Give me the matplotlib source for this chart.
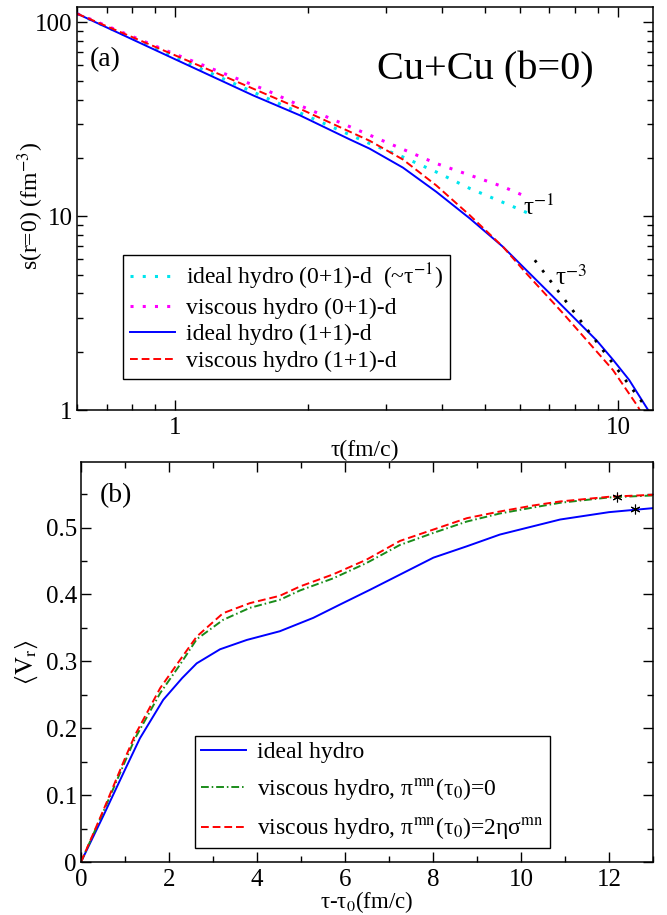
import matplotlib.pyplot as plt
from matplotlib.ticker import MultipleLocator, FuncFormatter, NullFormatter, LogLocator

plt.rcParams['font.family'] = ['Liberation Serif', 'DejaVu Serif']
plt.rcParams['mathtext.fontset'] = 'stix'

# ---- (a) s(r=0) vs tau, log-log ----
tau_ideal01 = [0.6, 1.0, 1.91, 2.75, 3.27, 3.89, 4.63, 5.8, 6.43]
s_ideal01 = [111, 66, 34.2, 23.7, 20.2, 16.9, 13.9, 11.2, 10.1]

tau_visc01 = [0.6, 1.0, 1.61, 1.91, 2.75, 3.89, 5.5, 6.21]
s_visc01 = [111, 68.5, 44.6, 37.3, 26.2, 18.7, 14.2, 12.6]

tau_ideal11 = [0.6, 1.0, 1.5, 1.91, 2.47, 2.75, 3.27, 3.89, 4.63, 5.5, 6.21, 7.02,
               8.96, 9.76, 10.6, 11.7, 11.85]
s_ideal11 = [111, 64.5, 42.0, 33.2, 25.0, 22.3, 17.8, 13.35, 9.73, 6.95, 5.27, 3.99,
             2.28, 1.81, 1.43, 1.0, 0.96]

tau_visc11 = [0.6, 1.0, 1.5, 1.91, 2.47, 2.75, 3.27, 3.89, 4.63, 5.5, 6.21, 7.51, 9.74,
              11.1, 11.3]
s_visc11 = [111, 67.6, 45.5, 35.9, 27.4, 24.5, 19.6, 14.4, 10.1, 6.95, 5.07, 3.16, 1.61,
            1.04, 0.96]

tau_pow3 = [6.49, 11.7]
s_pow3 = [5.93, 1.0]

# ---- (b) <v_r> vs tau - tau0 ----
t_b = [0, 0.5, 1.0, 1.34, 1.87, 2.3, 2.63, 3.16, 3.77, 4.52, 5.28, 5.89, 6.57, 8.01,
       8.77, 9.52, 10.89, 12, 13]
vr_ideal = [0, 0.068, 0.138, 0.185, 0.2425, 0.275, 0.297, 0.318, 0.332, 0.345, 0.365,
            0.385, 0.407, 0.455, 0.472, 0.4895, 0.512, 0.523, 0.529]

t_v = [0, 0.5, 1.0, 1.23, 1.8, 2.25, 2.63, 3.23, 3.84, 4.52, 4.98, 5.73, 6.49, 7.25,
       8.01, 8.77, 9.52, 10.28, 10.89, 12, 13]
vr_visc0 = [0, 0.074, 0.15, 0.185, 0.2525, 0.295, 0.333, 0.362, 0.38, 0.392, 0.406,
            0.424, 0.447, 0.474, 0.492, 0.509, 0.521, 0.530, 0.537, 0.545, 0.548]
vr_visc2 = [0, 0.076, 0.155, 0.19, 0.26, 0.302, 0.337, 0.372, 0.387, 0.398, 0.412,
            0.430, 0.452, 0.480, 0.497, 0.514, 0.524, 0.533, 0.539, 0.546, 0.549]

star_x = [12.18, 12.6]
star_y = [0.546, 0.527]

fig = plt.figure(figsize=(6.67, 9.15), dpi=100)

# top panel
ax1 = fig.add_axes([0.1154, 0.5519, 0.8636, 0.4404])
ax1.plot(tau_ideal01, s_ideal01, color='#00e5ee', ls=(0, (1, 3)), lw=2.2,
         label='ideal hydro (0+1)-d  (~τ$^{-1}$)')
ax1.plot(tau_visc01, s_visc01, color='#ff00ff', ls=(0, (1, 3)), lw=2.2,
         label='viscous hydro (0+1)-d')
ax1.plot(tau_ideal11, s_ideal11, color='#0000ff', lw=1.4, label='ideal hydro (1+1)-d')
ax1.plot(tau_visc11, s_visc11, color='#ff0000', ls=(0, (4, 2)), lw=1.4,
         label='viscous hydro (1+1)-d')
ax1.plot(tau_pow3, s_pow3, color='k', ls=(0, (1, 3.5)), lw=2.0)
ax1.set_xscale('log')
ax1.set_yscale('log')
ax1.set_xlim(0.6, 12.0)
ax1.set_ylim(1, 120)
fmt = FuncFormatter(lambda v, p: '%g' % v)
ax1.xaxis.set_major_formatter(fmt)
ax1.yaxis.set_major_formatter(fmt)
ax1.xaxis.set_minor_locator(LogLocator(subs=range(2, 10)))
ax1.yaxis.set_minor_locator(LogLocator(subs=range(2, 10)))
ax1.xaxis.set_minor_formatter(NullFormatter())
ax1.yaxis.set_minor_formatter(NullFormatter())
ax1.set_xlabel('τ(fm/c)', fontsize=17, labelpad=1)
ax1.set_ylabel('s(r=0) (fm$^{-3}$)', fontsize=17)
ax1.yaxis.set_label_coords(-0.054, 0.507)
ax1.text(0.022, 0.854, '(a)', transform=ax1.transAxes, fontsize=20)
ax1.text(0.52, 0.82, 'Cu+Cu (b=0)', transform=ax1.transAxes, fontsize=29)
ax1.text(6.09, 10.1, 'τ$^{-1}$', fontsize=18, va='baseline')
ax1.text(7.2, 4.41, 'τ$^{-3}$', fontsize=18, va='baseline')
leg1 = ax1.legend(loc='upper left', bbox_to_anchor=(0.08, 0.385), borderaxespad=0,
                  fontsize=17, frameon=True, fancybox=False, framealpha=1,
                  edgecolor='k', handlelength=1.9, handletextpad=0.45,
                  labelspacing=0.21, borderpad=0.3)
leg1.get_frame().set_linewidth(1.0)

# bottom panel
ax2 = fig.add_axes([0.1214, 0.0579, 0.8576, 0.4372])
ax2.plot(t_b, vr_ideal, color='#0000ff', lw=1.4, label='ideal hydro')
ax2.plot(t_v, vr_visc0, color='#1a8c1a', ls=(0, (4, 1.5, 0.8, 1.5)), lw=1.4,
         label='viscous hydro, π$^{\\rm mn}$(τ$_0$)=0')
ax2.plot(t_v, vr_visc2, color='#ff0000', ls=(0, (4, 2)), lw=1.4,
         label='viscous hydro, π$^{\\rm mn}$(τ$_0$)=2ησ$^{\\rm mn}$')
ax2.plot(star_x, star_y, ls='none', marker=(6, 2, 0), ms=7, mew=0.8, color='k')
ax2.set_xlim(0, 13)
ax2.set_ylim(0, 0.598)
ax2.xaxis.set_major_locator(MultipleLocator(2))
ax2.xaxis.set_minor_locator(MultipleLocator(1))
ax2.yaxis.set_major_locator(MultipleLocator(0.1))
ax2.yaxis.set_minor_locator(MultipleLocator(0.05))
ax2.xaxis.set_major_formatter(fmt)
ax2.yaxis.set_major_formatter(fmt)
ax2.set_xlabel('τ-τ$_0$(fm/c)', fontsize=16.5)
ax2.xaxis.set_label_coords(0.5, -0.068)
ax2.set_ylabel(r'$\langle\mathrm{V}_\mathrm{r}\rangle$', fontsize=18, labelpad=4)
ax2.text(0.032, 0.9, '(b)', transform=ax2.transAxes, fontsize=20)
leg2 = ax2.legend(loc='upper left', bbox_to_anchor=(0.199, 0.315), borderaxespad=0,
                  fontsize=17, frameon=True, fancybox=False, framealpha=1,
                  edgecolor='k', handlelength=1.9, handletextpad=0.5,
                  labelspacing=0.55, borderpad=0.25)
leg2.get_frame().set_linewidth(1.0)

for ax in (ax1, ax2):
    ax.tick_params(which='both', direction='in', top=True, right=True, width=1.0,
                   labelsize=18)
    ax.tick_params(which='major', length=7, pad=5)
    ax.tick_params(which='minor', length=4)
    ax.tick_params(axis='y', which='major', pad=3)
    for sp in ax.spines.values():
        sp.set_linewidth(1.1)

fig.savefig('out.png', dpi=100)
